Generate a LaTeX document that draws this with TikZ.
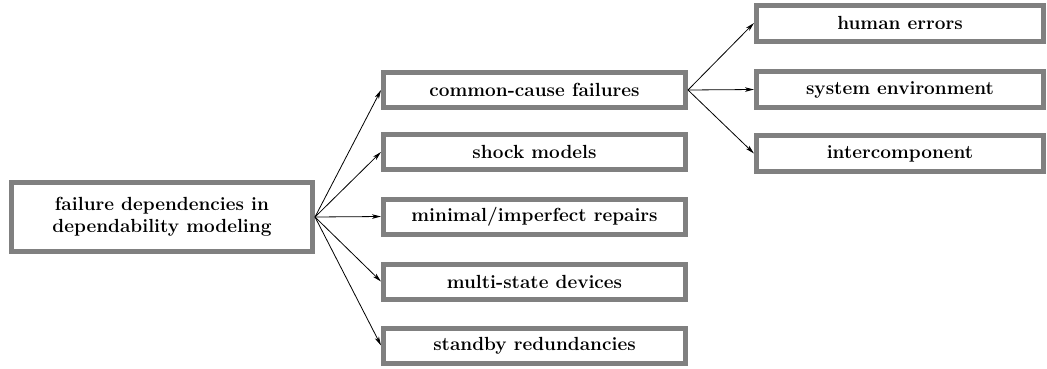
\documentclass[tikz,border=0pt]{standalone}
\usetikzlibrary{arrows.meta}
\definecolor{boxgray}{HTML}{808080}
\begin{document}
\begin{tikzpicture}[x=1pt,y=-1pt,
  box/.style={draw=boxgray, line width=5pt, fill=white, inner sep=0pt,
    align=center, font=\fontsize{19}{22}\selectfont\bfseries},
  mid/.style={box, minimum width=302pt, minimum height=35pt},
  leaf/.style={box, minimum width=287pt, minimum height=36pt},
  link/.style={line width=0.8pt, -{Stealth[length=9pt,width=4.5pt,inset=2.5pt]}}]
  \useasboundingbox (0,0) rectangle (1047,368);

  % root of the classification
  \node[box, minimum width=301pt, minimum height=69pt] (root) at (162,217)
    {failure dependencies in\\dependability modeling};

  % kinds of dependencies
  \node[mid] (ccf)   at (534.5,90)    {common-cause failures};
  \node[mid] (shock) at (534.5,152)   {shock models};
  \node[mid] (rep)   at (534.5,216.5) {minimal/imperfect repairs};
  \node[mid] (multi) at (534.5,281.5) {multi-state devices};
  \node[mid] (stby)  at (534.5,345.5) {standby redundancies};

  % sources of common-cause failures
  \node[leaf] (human) at (900,23)    {human errors};
  \node[leaf] (env)   at (900,89.5)  {system environment};
  \node[leaf] (inter) at (900,153.5) {intercomponent};

  \foreach \t in {ccf,shock,rep,multi,stby}
    \draw[link] (root.east) -- (\t.west);
  \foreach \t in {human,env,inter}
    \draw[link] (ccf.east) -- (\t.west);
\end{tikzpicture}
\end{document}
